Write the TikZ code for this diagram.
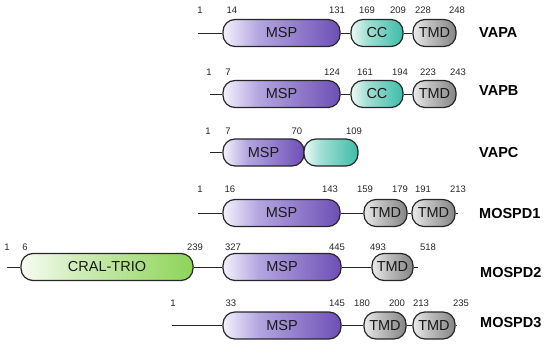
\documentclass[tikz,border=0pt]{standalone}
\usepackage{fontspec}
\setmainfont{Liberation Sans}
\usetikzlibrary{positioning}

\definecolor{edge}{HTML}{262626}
\definecolor{mspA}{HTML}{F4F2FB}
\definecolor{mspB}{HTML}{B3A6E0}
\definecolor{mspC}{HTML}{6E4FB6}
\definecolor{ccA}{HTML}{EEF9F6}
\definecolor{ccB}{HTML}{A3E0D5}
\definecolor{ccC}{HTML}{3DBCA9}
\definecolor{tmdA}{HTML}{EBEBEB}
\definecolor{tmdB}{HTML}{BDBDBD}
\definecolor{tmdC}{HTML}{858585}
\definecolor{crA}{HTML}{F8FCF3}
\definecolor{crB}{HTML}{D3EEBD}
\definecolor{crC}{HTML}{8CD457}

\pgfdeclarehorizontalshading{mspshade}{100bp}{color(0bp)=(mspA); color(25bp)=(mspA);
  color(40bp)=(mspB); color(75bp)=(mspC); color(100bp)=(mspC)}
\pgfdeclarehorizontalshading{ccshade}{100bp}{color(0bp)=(ccA); color(25bp)=(ccA);
  color(40bp)=(ccB); color(75bp)=(ccC); color(100bp)=(ccC)}
\pgfdeclarehorizontalshading{tmdshade}{100bp}{color(0bp)=(tmdA); color(25bp)=(tmdA);
  color(45bp)=(tmdB); color(75bp)=(tmdC); color(100bp)=(tmdC)}
\pgfdeclarehorizontalshading{crshade}{100bp}{color(0bp)=(crA); color(25bp)=(crA);
  color(40bp)=(crB); color(75bp)=(crC); color(100bp)=(crC)}

\begin{document}
\begin{tikzpicture}[x=1pt, y=-1pt,
  dom/.style={draw=edge, line width=1.2pt, rounded corners=12pt, minimum height=27pt,
              inner sep=0pt, text=black!90, font=\fontsize{14.5}{16}\selectfont},
  msp/.style={dom, shade, shading=mspshade},
  cc/.style={dom, shade, shading=ccshade},
  tmd/.style={dom, shade, shading=tmdshade},
  cral/.style={dom, shade, shading=crshade},
  num/.style={inner sep=0pt, text=black!85, font=\fontsize{9.5}{11}\selectfont},
  lbl/.style={anchor=west, inner sep=0pt, font=\fontsize{14.5}{16}\selectfont\bfseries},
  ln/.style={draw=edge, line width=0.9pt}
]
  \useasboundingbox (0,0) rectangle (550,346);

  % VAPA
  \coordinate (a0) at (198,33);
  \node[msp, minimum width=117pt] (amsp) at (281.5,33) {MSP};
  \node[cc,  minimum width=52pt]  (acc)  at (377,33)   {CC};
  \node[tmd, minimum width=43pt]  (atmd) at (434.5,33) {TMD};
  \draw[ln] (a0) -- (amsp);
  \draw[ln] (amsp) -- (acc);
  \draw[ln] (acc) -- (atmd);
  \node[num] (a1) at (200,10) {1};    \node[num] (a14) at (232,10) {14};
  \node[num] (a131) at (337,10) {131}; \node[num] (a169) at (367,10) {169};
  \node[num] (a209) at (398,10) {209}; \node[num] (a228) at (423,10) {228};
  \node[num] (a248) at (457,10) {248};
  \node[lbl] (vapa) at (479,33) {VAPA};

  % VAPB
  \coordinate (b0) at (210,94);
  \node[msp, minimum width=117pt] (bmsp) at (281.5,94) {MSP};
  \node[cc,  minimum width=52pt]  (bcc)  at (377,94)   {CC};
  \node[tmd, minimum width=43pt]  (btmd) at (434.5,94) {TMD};
  \draw[ln] (b0) -- (bmsp);
  \draw[ln] (bmsp) -- (bcc);
  \draw[ln] (bcc) -- (btmd);
  \node[num] (b1) at (209,72) {1};    \node[num] (b7) at (228,72) {7};
  \node[num] (b124) at (332,72) {124}; \node[num] (b161) at (365,72) {161};
  \node[num] (b194) at (400,72) {194}; \node[num] (b223) at (428,72) {223};
  \node[num] (b243) at (458,72) {243};
  \node[lbl] (vapb) at (479,91) {VAPB};

  % VAPC
  \coordinate (c0) at (210,152.5);
  \node[msp, minimum width=81pt] (cmsp) at (263.5,152.5) {MSP};
  \node[cc,  minimum width=54pt] (ccc)  at (331,152.5)   {};
  \draw[ln] (c0) -- (cmsp);
  \node[num] (c1) at (208,131) {1};  \node[num] (c7) at (228,131) {7};
  \node[num] (c70) at (297,131) {70}; \node[num] (c109) at (354,131) {109};
  \node[lbl] (vapc) at (479,153) {VAPC};

  % MOSPD1
  \coordinate (d0) at (198,213);
  \coordinate (d9) at (458,213);
  \node[msp, minimum width=117pt] (dmsp)  at (281.5,213) {MSP};
  \node[tmd, minimum width=43pt]  (dtmdi) at (385.5,213) {TMD};
  \node[tmd, minimum width=43pt]  (dtmdii) at (433.5,213) {TMD};
  \draw[ln] (d0) -- (dmsp);
  \draw[ln] (dmsp) -- (dtmdi);
  \draw[ln] (dtmdi) -- (dtmdii);
  \draw[ln] (dtmdii) -- (d9);
  \node[num] (d1) at (200,189) {1};    \node[num] (d16) at (230,189) {16};
  \node[num] (d143) at (330,189) {143}; \node[num] (d159) at (365,189) {159};
  \node[num] (d179) at (400,189) {179}; \node[num] (d191) at (423,189) {191};
  \node[num] (d213) at (458,189) {213};
  \node[lbl] (mospdi) at (479,214) {MOSPD1};

  % MOSPD2
  \coordinate (e0) at (7,267);
  \coordinate (e9) at (418,267);
  \node[cral, minimum width=172pt] (ecral) at (107,267) {CRAL-TRIO};
  \node[msp,  minimum width=118pt] (emsp)  at (282,267) {MSP};
  \node[tmd,  minimum width=41pt]  (etmd)  at (392.5,267) {TMD};
  \draw[ln] (e0) -- (ecral);
  \draw[ln] (ecral) -- (emsp);
  \draw[ln] (emsp) -- (etmd);
  \draw[ln] (etmd) -- (e9);
  \node[num] (e1) at (7,247) {1};      \node[num] (e6) at (25,247) {6};
  \node[num] (e239) at (195,247) {239}; \node[num] (e327) at (233,247) {327};
  \node[num] (e445) at (337,247) {445}; \node[num] (e493) at (378,247) {493};
  \node[num] (e518) at (428,247) {518};
  \node[lbl] (mospdii) at (480,273) {MOSPD2};

  % MOSPD3
  \coordinate (f0) at (172,325.5);
  \coordinate (f9) at (457,325.5);
  \node[msp, minimum width=118pt] (fmsp)  at (282,325.5) {MSP};
  \node[tmd, minimum width=42pt]  (ftmdi) at (385,325.5) {TMD};
  \node[tmd, minimum width=42pt]  (ftmdii) at (434,325.5) {TMD};
  \draw[ln] (f0) -- (fmsp);
  \draw[ln] (fmsp) -- (ftmdi);
  \draw[ln] (ftmdi) -- (ftmdii);
  \draw[ln] (ftmdii) -- (f9);
  \node[num] (f1) at (173,303) {1};    \node[num] (f33) at (231,303) {33};
  \node[num] (f145) at (337,303) {145}; \node[num] (f180) at (362,303) {180};
  \node[num] (f200) at (397,303) {200}; \node[num] (f213) at (421,303) {213};
  \node[num] (f235) at (461,303) {235};
  \node[lbl] (mospdiii) at (480,323) {MOSPD3};
\end{tikzpicture}
\end{document}
